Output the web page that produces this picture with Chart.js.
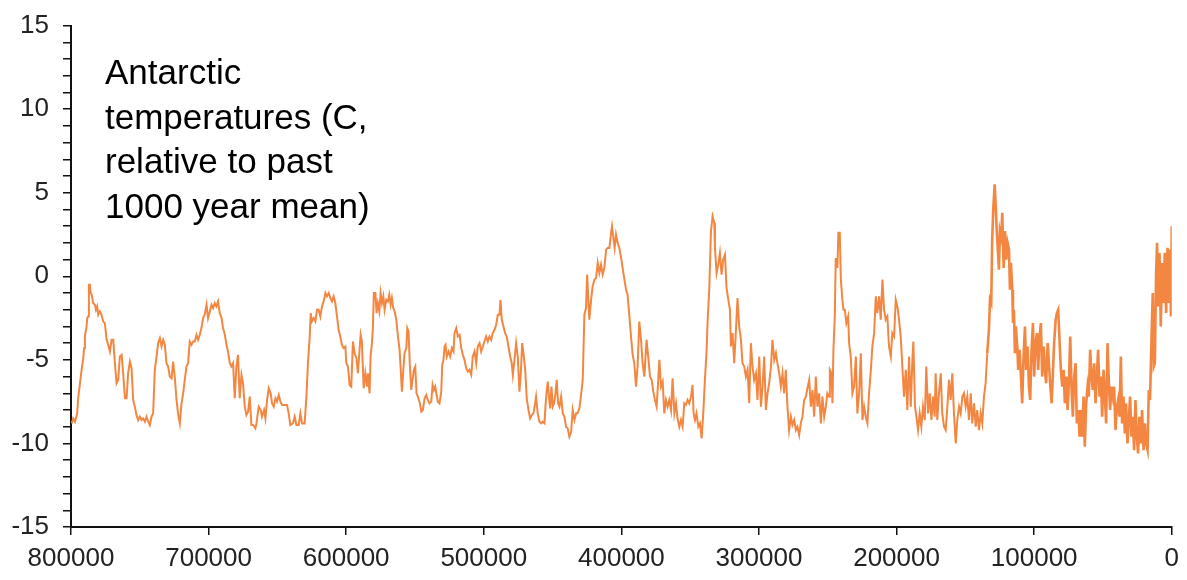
<!DOCTYPE html>
<html>
<head>
<meta charset="utf-8">
<script src="https://cdn.jsdelivr.net/npm/chart.js@4.4.1/dist/chart.umd.min.js"></script>
<style>
  html, body { margin: 0; padding: 0; background: #fff; }
  #wrap { position: relative; width: 1187px; height: 580px; overflow: hidden; }
  #tempChart { display: block; margin-top: -4px; }
  #label {
    position: absolute; left: 105px; top: 50px;
    font-family: "Liberation Sans", Arial, sans-serif;
    font-size: 35px; line-height: 44.5px; color: #000;
  }
</style>
</head>
<body>
<div id="wrap">
  <canvas id="tempChart" width="1187" height="584"></canvas>
  <div id="label">Antarctic<br>temperatures (C,<br>relative to past<br>1000 year mean)</div>
</div>
<script>
// years before present
const ageYears = [
  799500, 798400, 797100, 795500, 794800, 793500, 792300, 791100, 790500, 789900,
  788700, 788200, 787500, 787000, 786300, 785700, 785000, 783900, 782600, 781900,
  781000, 780200, 779000, 777800, 776600, 775400, 774100, 773000, 771700, 770500,
  769300, 768100, 766900, 765700, 764500, 763200, 762100, 760800, 759600, 758500,
  757200, 756000, 754800, 753600, 752400, 751200, 750000, 748700, 747600, 746300,
  745100, 743900, 742700, 741500, 740300, 739100, 737800, 736700, 735400, 734200,
  733000, 731800, 730600, 729400, 728200, 726900, 725800, 724500, 723300, 722200,
  720900, 719700, 718500, 717300, 716100, 714900, 713700, 712400, 711300, 710000,
  708800, 707600, 706400, 705200, 704000, 702800, 701500, 700400, 699100, 697900,
  696700, 695500, 694300, 693100, 691900, 690600, 689500, 688200, 687000, 685900,
  684600, 683400, 682200, 681000, 679800, 678600, 677400, 676100, 675000, 673700,
  672500, 671300, 670100, 668900, 667700, 666000, 665200, 663600, 662100, 661200,
  659700, 658700, 657500, 656300, 654900, 653900, 652700, 651400, 650300, 649000,
  647800, 646600, 644700, 643000, 641800, 640600, 638700, 637400, 636200, 634500,
  633300, 632100, 630200, 628900, 627800, 626500, 625800, 624900, 623600, 622400,
  621200, 620000, 618800, 617600, 616400, 615100, 614000, 612700, 611500, 610300,
  609100, 607900, 606700, 605500, 604300, 603100, 601900, 600600, 599900, 598700,
  597500, 596300, 595100, 593900, 592600, 591500, 590200, 589500, 588600, 587300,
  586100, 584900, 584200, 583000, 582300, 581300, 580600, 579900, 578800, 577900,
  577000, 575900, 575000, 574000, 573000, 572100, 570900, 569700, 568700, 567700,
  566800, 565800, 564800, 563600, 562400, 561200, 560500, 559500, 558500, 557600,
  556300, 555600, 554700, 553700, 552700, 551800, 550800, 549800, 548900, 547900,
  546700, 545400, 544300, 543000, 541800, 540700, 539400, 538200, 537200, 536300,
  535300, 534300, 533400, 532200, 530900, 530200, 529300, 528500, 527800, 526900,
  525600, 524400, 523200, 522000, 521300, 520000, 518900, 517600, 516400, 515200,
  514000, 512800, 511600, 510400, 509100, 508000, 506700, 505500, 504400, 503100,
  501900, 500700, 499500, 498300, 497100, 495900, 494600, 493500, 492200, 491000,
  489800, 488600, 487900, 486900, 485700, 484500, 483300, 482100, 480800, 479700,
  478900, 477700, 476500, 475300, 474100, 473100, 472100, 471200, 469900, 468800,
  467500, 466300, 465100, 463900, 462700, 462000, 460800, 459600, 458300, 457200,
  455900, 455200, 454300, 453500, 452800, 451800, 450800, 449900, 448900, 447900,
  447000, 446000, 445000, 443800, 442600, 441400, 440200, 439000, 437800, 436500,
  435400, 434100, 432900, 431800, 430500, 429300, 428100, 427600, 426900, 425700,
  424900, 424000, 423300, 422000, 420900, 419600, 418400, 417200, 416000, 414800,
  413600, 412400, 411100, 410000, 408700, 407500, 406800, 405800, 404900, 403900,
  402700, 401500, 400200, 399100, 397800, 396600, 395500, 394900, 394200, 393000,
  391800, 390600, 389400, 388200, 387000, 385700, 384600, 383300, 382600, 381700,
  380400, 379200, 378000, 376800, 375600, 374400, 373200, 372400, 371200, 370000,
  368800, 367600, 366400, 365200, 363900, 362800, 361500, 360300, 359200, 357900,
  356700, 355500, 354300, 353100, 351900, 350700, 349400, 348300, 347500, 346500,
  345400, 344100, 342900, 341700, 340500, 339300, 338100, 337400, 336100, 334900,
  333700, 332500, 332000, 330800, 329600, 328400, 327200, 326000, 324700, 323600,
  322300, 321100, 320400, 319200, 318000, 316800, 315600, 314400, 313100, 312000,
  310700, 309500, 308300, 307100, 305900, 304700, 303500, 302200, 301100, 299800,
  298600, 297400, 296200, 295000, 293800, 292600, 291300, 290200, 288900, 287700,
  286600, 285300, 284100, 282900, 281700, 280500, 279300, 278100, 276800, 275700,
  274400, 273200, 272000, 270800, 269600, 268400, 267200, 265900, 264800, 263500,
  262300, 261100, 259900, 258700, 257500, 256300, 255000, 253900, 252600, 251400,
  250300, 249000, 248500, 247300, 246600, 245900, 244900, 244200, 243000, 242300,
  241300, 240500, 239400, 238600, 237600, 236500, 235200, 234500, 233300, 232100,
  230900, 229600, 228500, 227200, 226000, 224800, 223600, 222400, 221200, 220000,
  218700, 217600, 216300, 215100, 214000, 212700, 211500, 210300, 209100, 207900,
  206700, 205500, 204200, 203100, 201800, 200600, 199400, 198200, 197000, 195800,
  194600, 193300, 192200, 190900, 189700, 188500, 187800, 186600, 185600, 184400,
  183200, 182000, 180800, 179500, 178400, 177100, 175900, 174700, 173500, 172300,
  171600, 170400, 169200, 167900, 166800, 165500, 164300, 163100, 161900, 160700,
  159500, 158300, 157000, 155900, 154600, 153400, 152200, 151000, 149800, 148600,
  147400, 146100, 145000, 143700, 142500, 141400, 140100, 138900, 137700, 136500,
  135300, 134100, 132900, 132100, 131200, 130500, 129700, 128700, 128000, 127300,
  126300, 125600, 124900, 123900, 123200, 122200, 121200, 120300, 119300, 118300,
  117600, 116900, 115900, 115400, 114700, 114000, 113300, 112300, 111600, 110600,
  109600, 108700, 107700, 106700, 105800, 104800, 103800, 102900, 101900, 100900,
  100000, 99000, 98000, 97100, 96100, 95100, 94200, 93100, 92200, 91300,
  90200, 89300, 88400, 87300, 86400, 85500, 84400, 83500, 82500, 81500,
  80600, 79600, 78600, 77700, 76700, 75700, 74800, 73800, 72800, 71900,
  70900, 69900, 69000, 68000, 67000, 66100, 65100, 64100, 63200, 62200,
  61200, 60300, 59300, 58300, 57400, 56400, 55400, 54500, 53500, 52500,
  51500, 50600, 49600, 48600, 47700, 46700, 45700, 44800, 43800, 42800,
  41900, 40900, 39900, 39000, 38000, 37000, 36100, 35100, 34100, 33200,
  32200, 31200, 30300, 29300, 28300, 27400, 26400, 25400, 24500, 23500,
  22500, 21600, 20500, 19600, 18700, 17600, 16700, 15800, 14700, 13800,
  13100, 12300, 11400, 10700, 9900, 8900, 8000, 7000, 6000, 5100,
  4100, 3100, 2200, 1200, 600, 0
];

// temperature anomaly, C
const tempC = [
  -8.8, -8.5, -8.7, -8.2, -7.3, -6.4, -5.6, -4.9, -4.3, -3.6,
  -3.0, -2.5, -2.4, -0.5, -0.5, -1.0, -1.1, -1.6, -1.7, -2.0,
  -1.8, -2.3, -2.1, -2.3, -2.7, -2.8, -3.8, -4.1, -4.5, -3.8,
  -3.8, -5.2, -6.4, -6.2, -4.8, -4.7, -5.8, -7.3, -7.3, -5.8,
  -5.1, -5.5, -7.4, -7.8, -8.3, -8.6, -8.4, -8.6, -8.5, -8.7,
  -8.4, -8.7, -8.9, -8.4, -8.2, -5.6, -4.8, -4.0, -3.7, -4.2,
  -3.8, -4.1, -5.2, -5.4, -6.0, -6.1, -5.1, -6.1, -7.4, -8.2,
  -8.8, -7.6, -7.0, -6.2, -5.4, -5.2, -3.9, -4.1, -3.9, -3.9,
  -3.5, -3.8, -3.5, -3.1, -2.5, -2.3, -1.7, -2.5, -2.1, -1.7,
  -1.9, -1.6, -1.8, -1.5, -2.2, -2.5, -3.1, -3.5, -4.1, -4.5,
  -5.2, -5.4, -5.2, -7.3, -5.4, -4.7, -7.3, -5.9, -6.4, -7.8,
  -8.3, -8.1, -7.2, -8.9, -8.9, -9.1, -8.8, -7.8, -8.0, -8.4,
  -8.0, -8.5, -7.4, -6.7, -7.0, -7.6, -7.8, -7.3, -7.5, -7.1,
  -7.5, -7.7, -7.7, -7.7, -8.2, -8.9, -8.8, -8.4, -8.9, -8.9,
  -8.2, -8.8, -8.8, -7.2, -5.2, -3.6, -2.2, -2.7, -2.5, -2.7,
  -2.0, -2.0, -2.4, -1.8, -1.5, -1.0, -1.2, -1.0, -1.3, -1.5,
  -1.2, -1.6, -2.4, -3.2, -3.6, -4.1, -4.3, -4.2, -5.2, -5.4,
  -6.5, -6.6, -3.9, -4.6, -4.9, -5.8, -4.3, -3.5, -3.9, -6.7,
  -5.8, -6.6, -5.8, -7.0, -4.8, -4.0, -3.1, -1.0, -1.0, -2.2,
  -1.6, -2.1, -1.0, -1.6, -1.2, -2.0, -1.4, -1.5, -1.1, -1.7,
  -1.3, -1.9, -2.1, -2.6, -3.6, -4.4, -5.4, -6.9, -5.6, -4.6,
  -4.3, -3.1, -3.3, -5.4, -6.8, -6.2, -5.6, -5.4, -7.0, -7.2,
  -7.5, -8.1, -8.0, -7.3, -7.1, -7.4, -7.6, -7.5, -6.5, -6.8,
  -6.6, -7.1, -7.5, -7.6, -6.9, -5.3, -5.0, -4.2, -4.1, -4.8,
  -4.5, -4.8, -4.3, -4.5, -3.4, -3.1, -3.6, -3.5, -4.3, -4.7,
  -5.0, -5.5, -5.7, -5.6, -5.9, -4.8, -4.5, -5.2, -4.2, -4.0,
  -4.5, -4.2, -3.9, -3.6, -3.9, -3.6, -3.8, -3.4, -3.2, -2.9,
  -2.3, -2.3, -1.4, -2.6, -3.0, -3.4, -3.6, -4.2, -4.8, -5.2,
  -5.9, -5.0, -4.0, -4.8, -6.9, -5.8, -4.0, -4.6, -5.6, -7.3,
  -8.0, -8.5, -8.3, -8.2, -7.6, -7.2, -8.2, -8.7, -8.8, -8.7,
  -8.8, -7.8, -6.9, -6.3, -7.0, -7.9, -6.6, -7.8, -7.6, -7.0,
  -6.2, -7.6, -7.8, -7.2, -8.2, -8.4, -9.0, -9.1, -9.6, -9.3,
  -8.0, -8.6, -8.2, -8.2, -7.9, -7.1, -6.2, -4.6, -2.3, -1.9,
  0.1, -1.4, -2.6, -1.4, -0.6, -0.2, -0.1, 0.8, 0.2, 0.7,
  0.1, 0.5, 1.6, 1.7, 1.7, 2.6, 3.0, 2.3, 1.7, 2.5,
  2.0, 1.7, 1.1, 0.5, -0.2, -0.8, -1.1, -1.7, -2.4, -3.6,
  -4.7, -5.2, -6.6, -5.4, -2.7, -3.8, -5.2, -6.0, -5.0, -3.8,
  -4.9, -6.0, -6.2, -6.9, -7.4, -7.8, -6.2, -5.0, -6.6, -6.3,
  -8.2, -7.4, -7.8, -7.4, -8.0, -6.1, -8.2, -7.6, -8.5, -9.0,
  -8.6, -9.0, -7.6, -7.7, -7.4, -7.6, -7.2, -6.5, -8.2, -8.6,
  -8.2, -9.0, -8.8, -9.7, -8.2, -6.2, -4.5, -2.8, -0.7, 2.7,
  3.6, 3.2, 1.7, 0.2, 0.7, 1.4, 0.1, 1.0, 1.3, -0.7,
  -1.4, -2.0, -4.2, -3.4, -5.2, -3.3, -1.3, -3.0, -3.8, -5.2,
  -5.4, -6.0, -5.6, -7.6, -4.0, -5.4, -6.2, -5.8, -7.4, -4.8,
  -7.8, -6.6, -4.8, -8.0, -7.0, -6.4, -5.4, -3.8, -5.0, -4.6,
  -5.2, -5.8, -6.6, -5.8, -7.0, -5.6, -7.8, -9.2, -8.4, -8.9,
  -8.6, -9.2, -9.0, -9.5, -8.8, -8.4, -7.4, -7.2, -6.7, -6.2,
  -7.8, -6.8, -8.4, -6.0, -7.8, -7.0, -8.8, -7.2, -8.4, -7.8,
  -7.0, -7.2, -5.6, -5.8, -7.6, -4.4, -2.4, 1.1, 0.5, 2.6,
  2.6, -0.2, -1.4, -2.0, -2.0, -2.8, -2.4, -4.0, -4.8, -7.0,
  -6.6, -4.8, -8.2, -7.0, -4.6, -8.6, -7.8, -8.4, -8.8, -7.0,
  -5.6, -4.2, -3.4, -1.2, -2.2, -1.2, -2.6, -0.2, -2.0, -2.6,
  -2.4, -4.2, -4.8, -3.4, -3.6, -1.4, -1.8, -2.6, -3.6, -5.4,
  -7.2, -5.6, -8.0, -4.8, -7.8, -5.0, -3.9, -7.8, -8.4, -9.2,
  -8.2, -9.0, -7.8, -8.6, -5.4, -8.2, -7.0, -8.6, -7.2, -8.4,
  -5.8, -8.6, -7.0, -5.8, -8.2, -9.0, -9.2, -7.8, -6.2, -7.4,
  -5.8, -8.2, -10.0, -8.6, -7.8, -8.2, -7.2, -7.0, -7.8, -7.2,
  -8.6, -7.0, -8.8, -7.6, -9.0, -8.0, -9.2, -8.2, -8.8, -7.2,
  -6.4, -4.6, -3.2, -1.4, -1.6, 2.2, 4.1, 5.5, 4.3, 2.9,
  1.4, 0.4, 2.7, 2.3, 3.8, 0.5, 2.7, 1.0, 2.0, 1.6,
  -0.8, 0.8, -0.8, -2.8, -2.0, -4.6, -3.0, -4.2, -5.6, -4.4,
  -6.0, -7.6, -4.8, -3.0, -5.6, -4.2, -6.6, -7.4, -4.4, -2.8,
  -6.0, -4.0, -3.4, -5.6, -3.6, -2.8, -6.0, -4.2, -5.6, -6.4,
  -4.0, -5.2, -6.4, -7.6, -5.8, -4.0, -2.6, -2.2, -2.0, -4.0,
  -5.6, -6.6, -5.6, -7.6, -6.0, -8.0, -6.4, -3.6, -6.8, -8.4,
  -6.0, -5.2, -8.8, -8.0, -9.6, -8.0, -9.6, -7.2, -10.2, -7.6,
  -6.6, -7.2, -4.4, -6.0, -6.8, -5.2, -7.6, -6.0, -4.4, -7.2,
  -6.0, -8.4, -5.6, -7.2, -8.8, -4.0, -6.4, -8.0, -6.6, -7.2,
  -6.6, -9.2, -7.8, -7.4, -8.4, -4.8, -8.8, -7.2, -9.4, -7.6,
  -10.0, -8.6, -7.2, -9.6, -8.4, -10.4, -7.4, -9.6, -10.6, -8.4,
  -10.0, -8.0, -10.4, -8.8, -10.0, -10.4, -6.8, -7.4, -3.6, -1.0,
  -5.4, -5.2, 0.2, 2.0, -1.8, 1.4, -3.0, 0.8, -1.6, 1.4,
  -2.2, 1.7, -1.6, 1.6, -2.4, 3.0
];

// axis ticks
const xTicks = [800000, 700000, 600000, 500000, 400000, 300000, 200000, 100000, 0];
const yMajorTicks = [-15, -10, -5, 0, 5, 10, 15];

const points = ageYears.map((a, i) => ({ x: a, y: tempC[i] }));

const tickFont = { family: '"Liberation Sans", Arial, sans-serif', size: 26 };

new Chart(document.getElementById('tempChart'), {
  type: 'line',
  data: {
    datasets: [{
      data: points,
      borderColor: '#f38640',
      borderWidth: 2,
      pointRadius: 0,
      tension: 0,
      fill: false,
      // the last glacial cycle is sampled much more densely, so it reads thicker
      segment: {
        borderWidth: ctx => ctx.p0.parsed.x < 135000 ? 2.6 : 2
      }
    }]
  },
  options: {
    responsive: false,
    animation: false,
    layout: { padding: { top: 18, right: 14, left: 0, bottom: 0 } },
    plugins: { legend: { display: false }, tooltip: { enabled: false } },
    scales: {
      x: {
        type: 'linear',
        reverse: true,
        min: 0,
        max: 800000,
        afterFit: s => { s.height = 53; },
        afterBuildTicks: s => { s.ticks = xTicks.map(v => ({ value: v })); },
        ticks: {
          autoSkip: false,
          maxRotation: 0,
          padding: 8,
          color: '#222',
          font: tickFont,
          callback: v => String(v)
        },
        grid: { drawOnChartArea: false, tickLength: 8, color: '#111', lineWidth: 1.5 },
        border: { color: '#111', width: 2 }
      },
      y: {
        min: -15,
        max: 15,
        afterFit: s => { s.width = 71; },
        ticks: {
          stepSize: 1,
          autoSkip: false,
          padding: 14,
          color: '#222',
          font: tickFont,
          callback: v => yMajorTicks.includes(v) ? String(v) : ''
        },
        grid: { drawOnChartArea: false, tickLength: 8, color: '#111', lineWidth: 1.5 },
        border: { color: '#111', width: 2 }
      }
    }
  }
});
</script>
</body>
</html>
